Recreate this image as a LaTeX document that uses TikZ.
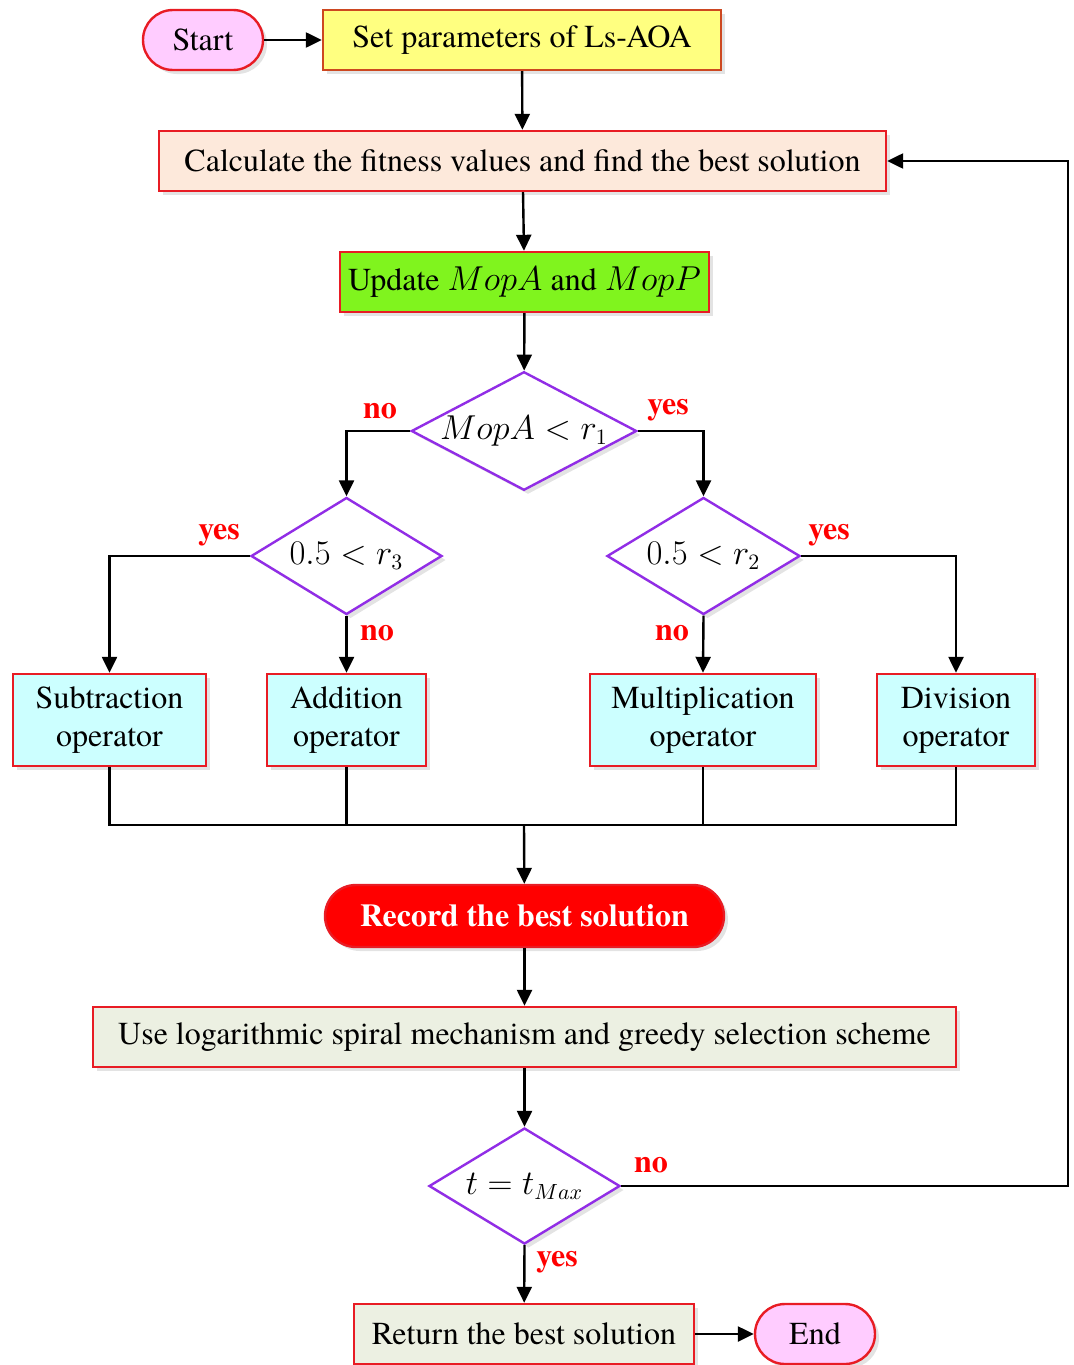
\documentclass[tikz,border=0pt]{standalone}
\usepackage{fontspec}
\setmainfont{texgyretermes}[Extension=.otf,UprightFont=*-regular,BoldFont=*-bold,ItalicFont=*-italic,BoldItalicFont=*-bolditalic]
\usepackage{tikz}
\usetikzlibrary{shapes.geometric,arrows.meta,positioning,shadows}

\definecolor{boxred}{RGB}{232,28,36}
\definecolor{parborder}{RGB}{205,72,32}
\definecolor{decpurple}{RGB}{145,45,230}
\definecolor{paryellow}{RGB}{255,255,128}
\definecolor{fitpeach}{RGB}{253,233,219}
\definecolor{updgreen}{RGB}{128,244,30}
\definecolor{opcyan}{RGB}{204,255,255}
\definecolor{loggray}{RGB}{236,240,226}
\definecolor{termpink}{RGB}{255,204,255}

\begin{document}
\begin{tikzpicture}[x=0.5pt,y=-0.5pt,
    font=\fontsize{16}{19}\selectfont,
    shade/.style={drop shadow={shadow xshift=2pt,shadow yshift=-2pt,opacity=0.22}},
    process/.style={draw=boxred,line width=1.2pt,inner sep=0pt,align=center,minimum height=30pt,shade},
    terminal/.style={process,fill=termpink,rounded corners=15pt,minimum width=60pt},
    decision/.style={diamond,aspect=1.9,draw=decpurple,fill=white,line width=1.2pt,inner sep=0pt,shade},
    operator/.style={process,fill=opcyan,minimum height=46pt},
    lab/.style={text=red,font=\fontsize{16}{19}\selectfont\bfseries},
    flow/.style={-{Triangle[length=8pt,width=7.5pt]},line width=1.2pt},
    link/.style={line width=1.2pt}]
    \useasboundingbox (0,0) rectangle (1074,1365);

    % Initialisation
    \node[terminal] (start) at (203,40) {Start};
    \node[process,fill=paryellow,draw=parborder,minimum width=199pt] (param) at (522,40) {Set parameters of Ls-AOA};
    \node[process,fill=fitpeach,minimum width=363.5pt] (fit) at (522.5,161) {Calculate the fitness values and find the best solution};
    \node[process,fill=updgreen,minimum width=184.5pt] (upd) at (524.5,282) {Update $MopA$ and $MopP$};

    % Decisions
    \node[decision,minimum width=112pt,minimum height=58pt] (dmop) at (524,431) {$MopA<r_1$};
    \node[decision,minimum width=95.5pt,minimum height=58.5pt] (dthree) at (346.5,556) {$0.5<r_3$};
    \node[decision,minimum width=96.5pt,minimum height=58.5pt] (dtwo) at (703.5,556) {$0.5<r_2$};

    % Operators
    \node[operator,minimum width=96.5pt] (sub) at (109.5,720) {Subtraction\\operator};
    \node[operator,minimum width=79.5pt] (add) at (346.5,720) {Addition\\operator};
    \node[operator,minimum width=113pt] (mul) at (703,720) {Multiplication\\operator};
    \node[operator,minimum width=79pt] (div) at (956,720) {Division\\operator};

    % Record, spiral search and stop test
    \node[process,fill=red,text=white,font=\fontsize{16}{19}\selectfont\bfseries,rounded corners=15.5pt,minimum width=199.5pt,minimum height=31pt] (rec) at (524.5,916) {Record the best solution};
    \node[process,fill=loggray,minimum width=431.5pt] (spiral) at (524.5,1037) {Use logarithmic spiral mechanism and greedy selection scheme};
    \node[decision,minimum width=95.5pt,minimum height=58pt] (dstop) at (524.5,1186) {$t=t_{Max}$};
    \node[process,fill=loggray,minimum width=170pt] (ret) at (524,1334) {Return the best solution};
    \node[terminal] (end) at (815,1334) {End};

    % Labels
    \node[lab] (nomop) at (380,411) {no};
    \node[lab] (yesmop) at (668,410) {yes};
    \node[lab] (yesthree) at (219,535) {yes};
    \node[lab] (nothree) at (377,633) {no};
    \node[lab] (notwo) at (672,633) {no};
    \node[lab] (yestwo) at (829,535) {yes};
    \node[lab] (nostop) at (651,1165) {no};
    \node[lab] (yesstop) at (557,1262) {yes};

    % Connectors
    \coordinate (join) at (524,825);
    \coordinate (loop) at (1068,1186);
    \draw[flow] (start) -- (param);
    \draw[flow] (param) -- (fit);
    \draw[flow] (fit) -- (upd);
    \draw[flow] (upd) -- (dmop);
    \draw[flow] (dmop.west) -| (dthree.north);
    \draw[flow] (dmop.east) -| (dtwo.north);
    \draw[flow] (dthree.west) -| (sub.north);
    \draw[flow] (dthree.south) -- (add.north);
    \draw[flow] (dtwo.south) -- (mul.north);
    \draw[flow] (dtwo.east) -| (div.north);
    \draw[link] (sub.south) |- (join) -| (div.south);
    \draw[link] (add.south) -- (add.south |- join);
    \draw[link] (mul.south) -- (mul.south |- join);
    \draw[flow] (join) -- (rec);
    \draw[flow] (rec) -- (spiral);
    \draw[flow] (spiral) -- (dstop);
    \draw[flow] (dstop.south) -- (ret);
    \draw[flow] (ret) -- (end);
    \draw[flow] (dstop.east) -- (loop) |- (fit.east);
\end{tikzpicture}
\end{document}
